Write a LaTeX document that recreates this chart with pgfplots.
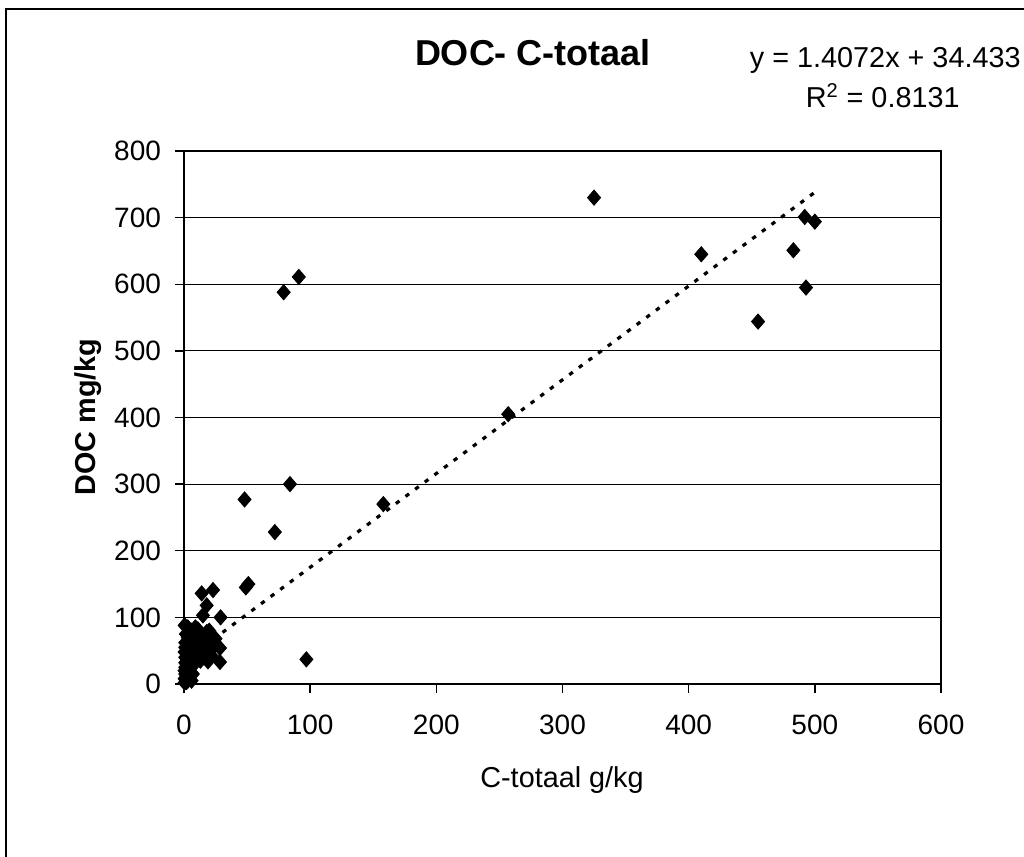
\documentclass[border=0pt]{standalone}
\usepackage{fontspec}
\setmainfont{Liberation Sans}
\usepackage{pgfplots}
\pgfplotsset{compat=1.18}
\begin{document}
\begin{tikzpicture}
\useasboundingbox (-92pt,-86.5pt) rectangle (420pt,342pt);
\draw[line width=1pt] (-89pt,-100pt) -- (-89pt,337.5pt) -- (430pt,337.5pt);
\begin{axis}[
 at={(0,0)}, anchor=south west,
 scale only axis, width=378.5pt, height=266.5pt,
 xmin=0, xmax=600, ymin=0, ymax=800,
 xtick={0,100,...,600}, ytick={0,100,...,800},
 ymajorgrids, grid style={line width=0.5pt,black},
 axis line style={line width=1pt},
 tick style={line width=0.7pt,black},
 major tick length=4.5pt,
 tick align=outside, xtick pos=bottom, ytick pos=left,
 ticklabel style={font=\fontsize{14}{17}\selectfont},
 xticklabel style={yshift=-7.5pt},
 yticklabel style={xshift=-3.5pt},
 /pgf/number format/assume math mode=true,
 clip=false,
]
\addplot[only marks, mark=diamond*, mark size=3.8pt, mark options={black, xscale=1.15}] coordinates {
(325,730) (410,645) (492,701) (500,694) (483,651) (493,595) (455,544)
(257,405) (158,270) (79,588) (91,611) (84,300) (48,277) (72,228)
(49,145) (51,150) (97,37)
(14,136) (23,141) (18,118) (15,103) (29,100) (28.5,54) (28.5,33) (19,34)
(18,78) (20,80) (17,65) (15,55) (12,70) (10,78) (6,80) (8,72) (5,65)
(3,60) (2,50) (4,45) (1,40) (2,30) (1,25) (0.5,20) (1,15) (2,10) (3,5)
(0.5,8) (4,20) (5,35) (6,45) (7,55) (9,60) (11,50) (13,45) (16,40) (18,38)
(22,42) (12,60) (3,70) (1,55) (6,25) (5,12) (2,3) (8,40) (10,35) (14,75)
(19,62) (22,72) (2,38) (4,28) (7,15) (3,85) (9,85) (0.5,2) (1,32) (0.5,48)
(1,62) (1.5,75) (0.5,88) (4,10) (6,5) (7,30) (5,52) (24,58) (21,50) (13,35)
(15,68) (11,82) (25,68) (17,50)
};
\addplot[black, line width=1.6pt, dash pattern=on 2.2pt off 3.8pt] coordinates {(0,34.433) (500,738.033)};
\end{axis}
\node[font=\fontsize{14.4}{17}\selectfont] at (189pt,-48pt) {C-totaal g/kg};
\node[rotate=90, font=\bfseries\fontsize{14.4}{17}\selectfont] at (-48pt,133.5pt) {DOC mg/kg};
\node[anchor=base, font=\bfseries\fontsize{18}{21}\selectfont] at (174.5pt,309pt) {DOC- C-totaal};
\node[anchor=base east, inner sep=0pt, font=\fontsize{14.4}{17}\selectfont] at (418.5pt,308pt) {y = 1.4072x + 34.433};
\node[anchor=base east, inner sep=0pt, font=\fontsize{14.4}{17}\selectfont] at (388pt,288pt) {R\textsuperscript{2} = 0.8131};
\end{tikzpicture}
\end{document}
